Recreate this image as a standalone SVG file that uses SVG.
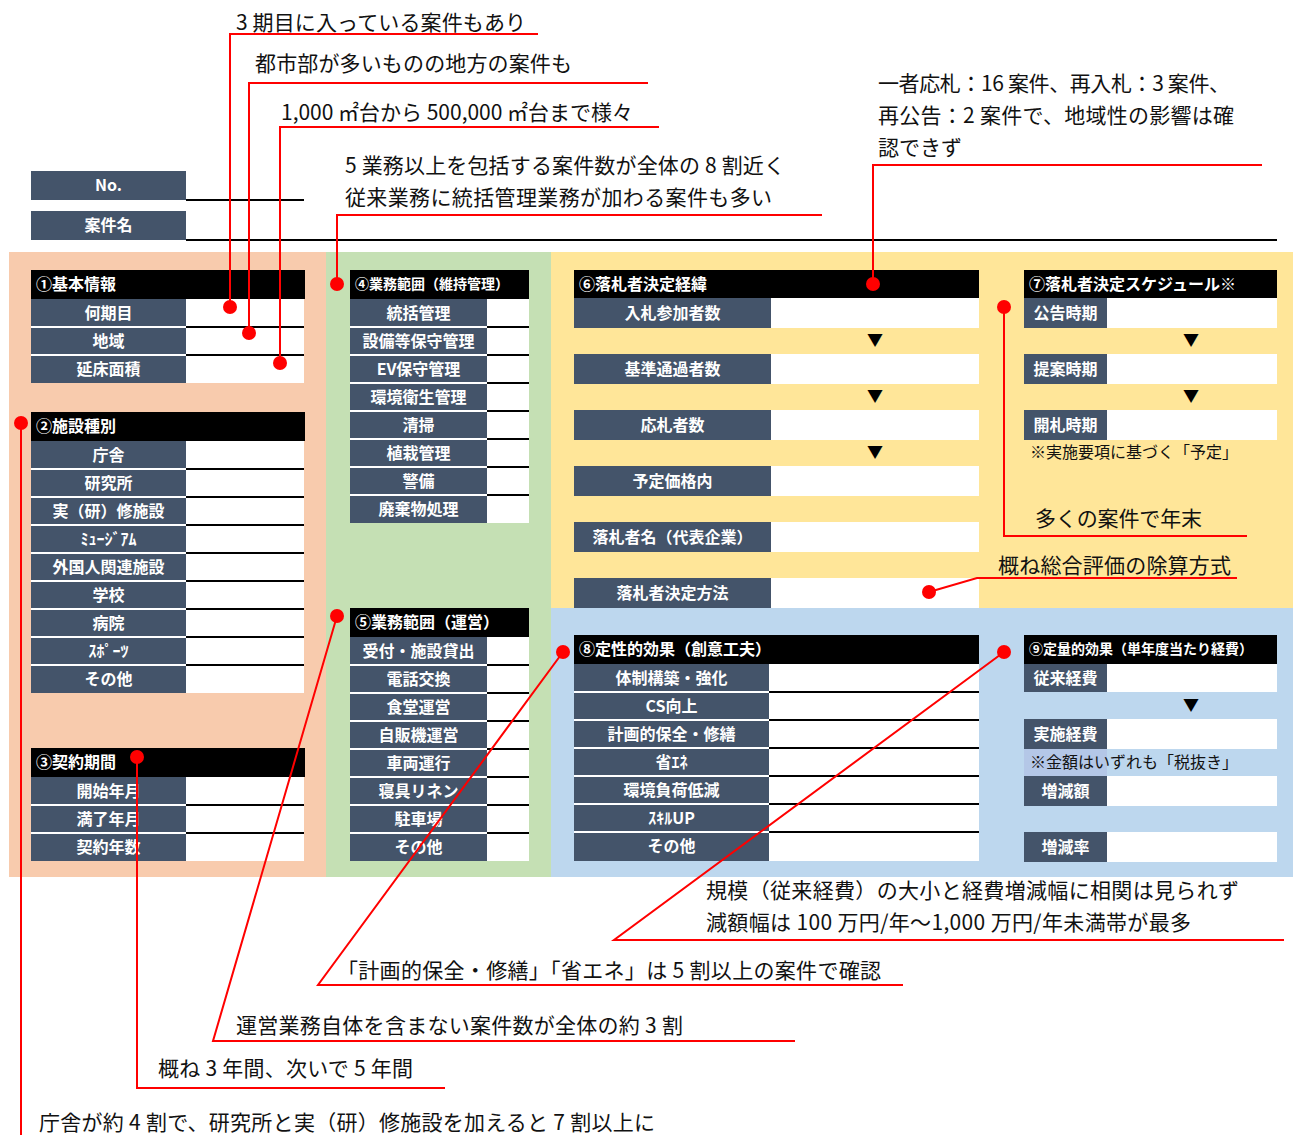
<svg xmlns="http://www.w3.org/2000/svg" width="1293" height="1135" viewBox="0 0 1293 1135">
<style>
text{font-family:"Noto Sans CJK JP","Noto Sans",sans-serif}
.lb{fill:#44546A}
.vl{fill:#fff}
.hd{fill:#000}
.lt{font-size:16px;font-weight:bold;fill:#fff;text-anchor:middle}
.ht{font-size:16px;font-weight:bold;fill:#fff}
.nt{font-size:21px;fill:#111}
.sm{font-size:16px;fill:#111}
.tri{font-size:16px;fill:#000;text-anchor:middle}
.ws{stroke:#fff;stroke-width:2}
.bs{stroke:#000;stroke-width:2}
.red{stroke:#f00;stroke-width:2;fill:none}
.dot{fill:#f00}
</style>

<g id="panels">
<rect x="9" y="252" width="317" height="625" fill="#F8CBAD"/>
<rect x="326" y="252" width="225" height="625" fill="#C5E0B4"/>
<rect x="551" y="252" width="742" height="356" fill="#FFE699"/>
<rect x="551" y="608" width="742" height="269" fill="#BDD7EE"/>
</g>

<g id="no">
<rect class="lb" x="31" y="171" width="155" height="29"/>
<text class="lt" x="108.5" y="191">No.</text>
<line class="bs" x1="186" y1="200" x2="304" y2="200"/>
</g>
<g id="anken">
<rect class="lb" x="31" y="211" width="155" height="29"/>
<text class="lt" x="108.5" y="231">案件名</text>
<line class="bs" x1="186" y1="240" x2="1277" y2="240"/>
</g>

<g id="kihon">
<rect class="hd" x="31" y="270" width="274" height="29"/>
<text class="ht" x="36" y="290">①基本情報</text>
<rect class="lb" x="31" y="299" width="155" height="84"/>
<rect class="vl" x="186" y="299" width="118" height="84"/>
<path class="ws" d="M31 327H186M31 355H186"/>
<path class="bs" d="M186 327H304M186 355H304"/>
<text class="lt" x="108.5" y="319">何期目</text>
<text class="lt" x="108.5" y="347">地域</text>
<text class="lt" x="108.5" y="375">延床面積</text>
</g>

<g id="shisetsu">
<rect class="hd" x="31" y="412" width="274" height="29"/>
<text class="ht" x="36" y="432">②施設種別</text>
<rect class="lb" x="31" y="441" width="155" height="252"/>
<rect class="vl" x="186" y="441" width="118" height="252"/>
<path class="ws" d="M31 469H186M31 497H186M31 525H186M31 553H186M31 581H186M31 609H186M31 637H186M31 665H186"/>
<path class="bs" d="M186 469H304M186 497H304M186 525H304M186 553H304M186 581H304M186 609H304M186 637H304M186 665H304"/>
<text class="lt" x="108.5" y="461">庁舎</text>
<text class="lt" x="108.5" y="489">研究所</text>
<text class="lt" x="108.5" y="517">実（研）修施設</text>
<text class="lt" x="108.5" y="545">ﾐｭｰｼﾞｱﾑ</text>
<text class="lt" x="108.5" y="573">外国人関連施設</text>
<text class="lt" x="108.5" y="601">学校</text>
<text class="lt" x="108.5" y="629">病院</text>
<text class="lt" x="108.5" y="657">ｽﾎﾟｰﾂ</text>
<text class="lt" x="108.5" y="685">その他</text>
</g>

<g id="keiyaku">
<rect class="hd" x="31" y="748" width="274" height="29"/>
<text class="ht" x="36" y="768">③契約期間</text>
<rect class="lb" x="31" y="777" width="155" height="84"/>
<rect class="vl" x="186" y="777" width="118" height="84"/>
<path class="ws" d="M31 805H186M31 833H186"/>
<path class="bs" d="M186 805H304M186 833H304"/>
<text class="lt" x="108.5" y="797">開始年月</text>
<text class="lt" x="108.5" y="825">満了年月</text>
<text class="lt" x="108.5" y="853">契約年数</text>
</g>

<g id="iji">
<rect class="hd" x="350" y="270" width="179" height="29"/>
<text class="ht" x="355" y="289" style="font-size:14px">④業務範囲（維持管理）</text>
<rect class="lb" x="350" y="299" width="137" height="224"/>
<rect class="vl" x="487" y="299" width="42" height="224"/>
<path class="ws" d="M350 327H487M350 355H487M350 383H487M350 411H487M350 439H487M350 467H487M350 495H487"/>
<path class="bs" d="M487 327H529M487 355H529M487 383H529M487 411H529M487 439H529M487 467H529M487 495H529"/>
<text class="lt" x="418.5" y="319">統括管理</text>
<text class="lt" x="418.5" y="347">設備等保守管理</text>
<text class="lt" x="418.5" y="375">EV保守管理</text>
<text class="lt" x="418.5" y="403">環境衛生管理</text>
<text class="lt" x="418.5" y="431">清掃</text>
<text class="lt" x="418.5" y="459">植栽管理</text>
<text class="lt" x="418.5" y="487">警備</text>
<text class="lt" x="418.5" y="515">廃棄物処理</text>
</g>

<g id="unei">
<rect class="hd" x="350" y="608" width="179" height="29"/>
<text class="ht" x="355" y="628">⑤業務範囲（運営）</text>
<rect class="lb" x="350" y="637" width="137" height="224"/>
<rect class="vl" x="487" y="637" width="42" height="224"/>
<path class="ws" d="M350 665H487M350 693H487M350 721H487M350 749H487M350 777H487M350 805H487M350 833H487"/>
<path class="bs" d="M487 665H529M487 693H529M487 721H529M487 749H529M487 777H529M487 805H529M487 833H529"/>
<text class="lt" x="418.5" y="657">受付・施設貸出</text>
<text class="lt" x="418.5" y="685">電話交換</text>
<text class="lt" x="418.5" y="713">食堂運営</text>
<text class="lt" x="418.5" y="741">自販機運営</text>
<text class="lt" x="418.5" y="769">車両運行</text>
<text class="lt" x="418.5" y="797">寝具リネン</text>
<text class="lt" x="418.5" y="825">駐車場</text>
<text class="lt" x="418.5" y="853">その他</text>
</g>

<g id="keii">
<rect class="hd" x="574" y="270" width="405" height="28"/>
<text class="ht" x="579" y="290">⑥落札者決定経緯</text>
<rect class="lb" x="574" y="298" width="197" height="30"/><rect class="vl" x="771" y="298" width="208" height="30"/>
<rect class="lb" x="574" y="354" width="197" height="30"/><rect class="vl" x="771" y="354" width="208" height="30"/>
<rect class="lb" x="574" y="410" width="197" height="30"/><rect class="vl" x="771" y="410" width="208" height="30"/>
<rect class="lb" x="574" y="466" width="197" height="30"/><rect class="vl" x="771" y="466" width="208" height="30"/>
<rect class="lb" x="574" y="522" width="197" height="30"/><rect class="vl" x="771" y="522" width="208" height="30"/>
<rect class="lb" x="574" y="578" width="197" height="30"/><rect class="vl" x="771" y="578" width="208" height="30"/>
<text class="lt" x="672.5" y="319">入札参加者数</text>
<text class="lt" x="672.5" y="375">基準通過者数</text>
<text class="lt" x="672.5" y="431">応札者数</text>
<text class="lt" x="672.5" y="487">予定価格内</text>
<text class="lt" x="672.5" y="543">落札者名（代表企業）</text>
<text class="lt" x="672.5" y="599">落札者決定方法</text>
<text class="tri" x="875" y="346">▼</text>
<text class="tri" x="875" y="402">▼</text>
<text class="tri" x="875" y="458">▼</text>
</g>

<g id="schedule">
<rect class="hd" x="1024" y="270" width="253" height="28"/>
<text class="ht" x="1029" y="290">⑦落札者決定スケジュール※</text>
<rect class="lb" x="1024" y="298" width="83" height="30"/><rect class="vl" x="1107" y="298" width="170" height="30"/>
<rect class="lb" x="1024" y="354" width="83" height="30"/><rect class="vl" x="1107" y="354" width="170" height="30"/>
<rect class="lb" x="1024" y="410" width="83" height="30"/><rect class="vl" x="1107" y="410" width="170" height="30"/>
<text class="lt" x="1065.5" y="319">公告時期</text>
<text class="lt" x="1065.5" y="375">提案時期</text>
<text class="lt" x="1065.5" y="431">開札時期</text>
<text class="tri" x="1191" y="346">▼</text>
<text class="tri" x="1191" y="402">▼</text>
<text class="sm" x="1030" y="458">※実施要項に基づく「予定」</text>
</g>

<g id="teisei">
<rect class="hd" x="574" y="635" width="405" height="29"/>
<text class="ht" x="579" y="655">⑧定性的効果（創意工夫）</text>
<rect class="lb" x="574" y="664" width="195" height="197"/>
<rect class="vl" x="769" y="664" width="210" height="197"/>
<path class="ws" d="M574 692H769M574 720H769M574 748H769M574 776H769M574 804H769M574 832H769"/>
<path class="bs" d="M769 692H979M769 720H979M769 748H979M769 776H979M769 804H979M769 832H979"/>
<text class="lt" x="671.5" y="684">体制構築・強化</text>
<text class="lt" x="671.5" y="712">CS向上</text>
<text class="lt" x="671.5" y="740">計画的保全・修繕</text>
<text class="lt" x="671.5" y="768">省ｴﾈ</text>
<text class="lt" x="671.5" y="796">環境負荷低減</text>
<text class="lt" x="671.5" y="824">ｽｷﾙUP</text>
<text class="lt" x="671.5" y="852">その他</text>
</g>

<g id="teiryo">
<rect class="hd" x="1024" y="635" width="253" height="29"/>
<text class="ht" x="1029" y="654" style="font-size:14px">⑨定量的効果（単年度当たり経費）</text>
<rect class="lb" x="1024" y="664" width="83" height="28"/><rect class="vl" x="1107" y="664" width="170" height="28"/>
<rect class="lb" x="1024" y="719" width="83" height="30"/><rect class="vl" x="1107" y="719" width="170" height="30"/>
<rect x="1024" y="749" width="83" height="27" fill="#B4C7E7"/>
<rect class="lb" x="1024" y="776" width="83" height="30"/><rect class="vl" x="1107" y="776" width="170" height="30"/>
<rect class="lb" x="1024" y="832" width="83" height="30"/><rect class="vl" x="1107" y="832" width="170" height="30"/>
<text class="lt" x="1065.5" y="684">従来経費</text>
<text class="lt" x="1065.5" y="740">実施経費</text>
<text class="lt" x="1065.5" y="797">増減額</text>
<text class="lt" x="1065.5" y="853">増減率</text>
<text class="tri" x="1191" y="711">▼</text>
<text class="sm" x="1030" y="768">※金額はいずれも「税抜き」</text>
</g>

<g id="connectors">
<polyline class="red" points="538,34 230,34 230,307"/>
<polyline class="red" points="648,83 249,83 249,333"/>
<polyline class="red" points="659,127 280,127 280,363"/>
<polyline class="red" points="822,215 337,215 337,284"/>
<polyline class="red" points="1262,165 873,165 873,284"/>
<polyline class="red" points="21,423 21,1135"/>
<polyline class="red" points="137,757 137,1088 445,1088"/>
<polyline class="red" points="337,616 213,1041 795,1041"/>
<polyline class="red" points="563,652 318,985 903,985"/>
<polyline class="red" points="1004,652 614,940 1284,940"/>
<polyline class="red" points="1004,307 1004,536 1247,536"/>
<polyline class="red" points="929,592 977,578 1237,578"/>
<circle class="dot" cx="230" cy="307" r="7"/>
<circle class="dot" cx="249" cy="333" r="7"/>
<circle class="dot" cx="280" cy="363" r="7"/>
<circle class="dot" cx="337" cy="284" r="7"/>
<circle class="dot" cx="873" cy="284" r="7"/>
<circle class="dot" cx="21" cy="423" r="7"/>
<circle class="dot" cx="137" cy="757" r="7"/>
<circle class="dot" cx="337" cy="616" r="7"/>
<circle class="dot" cx="563" cy="652" r="7"/>
<circle class="dot" cx="1004" cy="652" r="7"/>
<circle class="dot" cx="1004" cy="307" r="7"/>
<circle class="dot" cx="929" cy="592" r="7"/>
</g>

<g id="notes">
<text class="nt" x="236" y="30" textLength="290">3 期目に入っている案件もあり</text>
<text class="nt" x="255" y="71" textLength="317">都市部が多いものの地方の案件も</text>
<text class="nt" x="281" y="120" textLength="352">1,000 ㎡台から 500,000 ㎡台まで様々</text>
<text class="nt" x="345" y="173" textLength="440">5 業務以上を包括する案件数が全体の 8 割近く</text>
<text class="nt" x="345" y="205" textLength="427">従来業務に統括管理業務が加わる案件も多い</text>
<text class="nt" x="878" y="91" textLength="352">一者応札：16 案件、再入札：3 案件、</text>
<text class="nt" x="878" y="123" textLength="356">再公告：2 案件で、地域性の影響は確</text>
<text class="nt" x="878" y="155">認できず</text>
<text class="nt" x="1035" y="526" textLength="167">多くの案件で年末</text>
<text class="nt" x="998" y="573" textLength="233">概ね総合評価の除算方式</text>
<text class="nt" x="706" y="898" textLength="533">規模（従来経費）の大小と経費増減幅に相関は見られず</text>
<text class="nt" x="706" y="930" textLength="485">減額幅は 100 万円/年～1,000 万円/年未満帯が最多</text>
<text class="nt" x="337" y="978" textLength="544">「計画的保全・修繕」「省エネ」は 5 割以上の案件で確認</text>
<text class="nt" x="236" y="1033" textLength="447">運営業務自体を含まない案件数が全体の約 3 割</text>
<text class="nt" x="158" y="1076" textLength="255">概ね 3 年間、次いで 5 年間</text>
<text class="nt" x="39" y="1130" textLength="616">庁舎が約 4 割で、研究所と実（研）修施設を加えると 7 割以上に</text>
</g>
</svg>
